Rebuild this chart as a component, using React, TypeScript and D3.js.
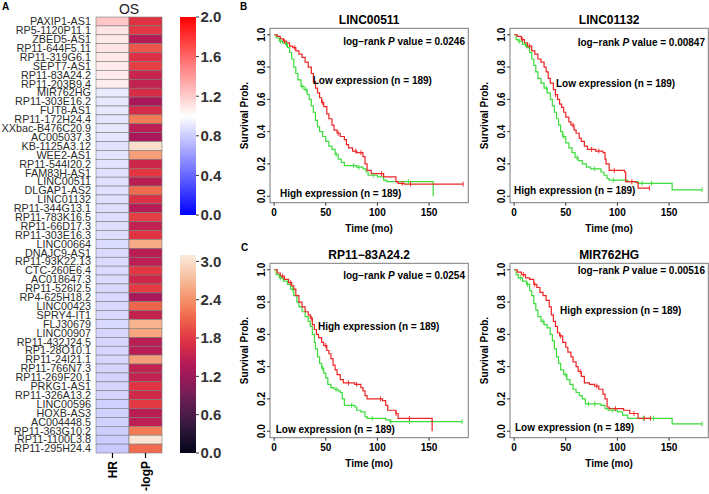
import React from "react";
import * as d3 from "d3";

// ---- heatmap data (panel A) ----
const genes = [
  "PAXIP1-AS1", "RP5-1120P11.1", "ZBED5-AS1", "RP11-644F5.11", "RP11-319G6.1",
  "SEPT7-AS1", "RP11-83A24.2", "RP11-203B9.4", "MIR762HG", "RP11-303E16.2",
  "FUT8-AS1", "RP11-172H24.4", "XXbac-B476C20.9", "AC005037.3", "KB-1125A3.12",
  "WEE2-AS1", "RP11-544I20.2", "FAM83H-AS1", "LINC00511", "DLGAP1-AS2",
  "LINC01132", "RP11-344G13.1", "RP11-783K16.5", "RP11-66D17.3", "RP11-303E16.3",
  "LINC00664", "DNAJC9-AS1", "RP11-93K22.13", "CTC-260E6.4", "AC018647.3",
  "RP11-526I2.5", "RP4-625H18.2", "LINC00423", "SPRY4-IT1", "FLJ30679",
  "LINC00907", "RP11-432J24.5", "RP1-28O10.1", "RP11-24I21.1", "RP11-766N7.3",
  "RP11-269F20.1", "PRKG1-AS1", "RP11-326A13.2", "LINC00596", "HOXB-AS3",
  "AC004448.5", "RP11-363G10.2", "RP11-1100L3.8", "RP11-295H24.4",
];
const hrValues = [
  1.22, 1.1, 1.09, 1.1, 1.09, 1.08, 1.08, 1.07, 0.92, 0.91,
  0.91, 0.9, 0.9, 0.9, 0.89, 0.89, 0.89, 0.88, 0.88, 0.88,
  0.88, 0.87, 0.87, 0.87, 0.87, 0.86, 0.86, 0.86, 0.86, 0.86,
  0.85, 0.85, 0.85, 0.85, 0.85, 0.84, 0.84, 0.84, 0.84, 0.83,
  0.83, 0.83, 0.83, 0.82, 0.82, 0.82, 0.81, 0.8, 0.79,
];
const logPValues = [
  1.75, 1.8, 1.4, 2.0, 1.72, 1.85, 1.55, 1.5, 1.68, 1.3,
  1.65, 2.25, 1.45, 1.3, 3.0, 2.5, 1.6, 1.8, 1.42, 2.15,
  1.72, 1.4, 1.85, 1.5, 1.78, 2.6, 1.42, 1.45, 1.8, 1.6,
  1.82, 1.3, 2.1, 1.52, 2.65, 2.55, 1.42, 1.42, 2.5, 1.48,
  1.5, 1.78, 1.62, 1.82, 1.42, 1.45, 2.25, 3.05, 2.15,
];
const columns = ["HR", "-logP"];
const hrTicks = [0, 0.4, 0.8, 1.2, 1.6, 2.0];
const logPTicks = [0, 0.6, 1.2, 1.8, 2.4, 3.0];

// ---- survival curves (panels B, C): [time, survival] step points ----
const timeTicks = [0, 50, 100, 150];
const probTicks = [0, 0.2, 0.4, 0.6, 0.8, 1.0];

const linc00511Low = [[0,1],[3,0.99],[6,0.975],[9,0.96],[12,0.95],[15,0.93],[18,0.92],[21,0.9],[24,0.88],[27,0.86],[30,0.83],[33,0.8],[36,0.76],[38,0.71],[40,0.67],[42,0.64],[44,0.61],[46,0.58],[48,0.555],[51,0.51],[53,0.48],[56,0.44],[58,0.41],[61,0.39],[64,0.37],[68,0.35],[70,0.32],[72,0.3],[76,0.28],[80,0.27],[86,0.245],[88,0.2],[90,0.16],[94,0.14],[106,0.12],[118,0.09],[120,0.08],[126,0.075],[183,0.075]];
const linc00511High = [[0,1],[2,0.98],[5,0.96],[8,0.95],[11,0.94],[13,0.92],[15,0.89],[17,0.85],[19,0.8],[21,0.76],[23,0.72],[26,0.68],[29,0.66],[32,0.63],[34,0.6],[36,0.56],[38,0.52],[40,0.47],[42,0.43],[44,0.4],[47,0.37],[50,0.34],[53,0.31],[56,0.29],[59,0.26],[62,0.23],[65,0.21],[68,0.19],[80,0.18],[86,0.17],[89,0.15],[91,0.13],[100,0.12],[106,0.1],[109,0.09],[154,0]];
const linc00511LowCens = [10, 20, 47, 62, 79, 84, 104, 124, 132, 183];
const linc00511HighCens = [6, 12, 27, 31, 60, 77, 82, 96, 130];

const linc01132Low = [[0,1],[3,0.99],[7,0.97],[10,0.95],[13,0.93],[17,0.9],[20,0.88],[23,0.85],[26,0.83],[29,0.8],[31,0.77],[33,0.73],[35,0.7],[38,0.66],[40,0.63],[42,0.6],[44,0.57],[46,0.55],[48,0.52],[50,0.49],[53,0.46],[55,0.44],[58,0.41],[60,0.39],[63,0.36],[65,0.34],[68,0.31],[71,0.29],[79,0.28],[86,0.27],[88,0.23],[89,0.2],[92,0.16],[107,0.15],[108,0.09],[118,0.085],[120,0.05],[131,0.05]];
const linc01132High = [[0,1],[2,0.97],[4,0.96],[8,0.94],[12,0.92],[15,0.89],[17,0.85],[19,0.81],[21,0.77],[23,0.73],[26,0.7],[29,0.67],[32,0.64],[35,0.6],[37,0.56],[39,0.52],[41,0.48],[43,0.44],[45,0.4],[47,0.37],[50,0.33],[53,0.3],[56,0.27],[59,0.24],[62,0.22],[66,0.2],[70,0.18],[74,0.17],[84,0.15],[87,0.13],[90,0.11],[92,0.1],[110,0.09],[120,0.08],[153,0.04],[182,0.04]];
const linc01132LowCens = [8, 15, 40, 57, 75, 82, 97, 114, 131];
const linc01132HighCens = [5, 11, 31, 48, 61, 78, 96, 124, 133, 182];

const rp1183LowCens = [6, 18, 47, 60, 75, 95, 113, 131, 182];
const rp1183HighCens = [8, 16, 36, 50, 72, 80, 103, 118, 131];
const rp1183High = [[0,1],[3,0.98],[6,0.96],[10,0.94],[14,0.92],[17,0.9],[19,0.88],[21,0.84],[24,0.8],[27,0.77],[30,0.74],[33,0.72],[35,0.7],[37,0.66],[39,0.63],[41,0.6],[43,0.58],[46,0.55],[48,0.53],[51,0.5],[53,0.48],[55,0.45],[57,0.41],[59,0.38],[61,0.35],[64,0.32],[67,0.3],[78,0.29],[84,0.27],[86,0.25],[88,0.22],[90,0.2],[105,0.19],[108,0.16],[110,0.13],[118,0.11],[120,0.08],[153,0]];
const rp1183Low = [[0,1],[2,0.97],[5,0.95],[9,0.93],[13,0.91],[16,0.88],[19,0.84],[22,0.8],[24,0.77],[27,0.74],[30,0.71],[33,0.68],[35,0.65],[37,0.6],[39,0.55],[40,0.51],[42,0.46],[44,0.42],[46,0.39],[48,0.36],[50,0.33],[52,0.29],[55,0.27],[58,0.26],[62,0.25],[64,0.24],[66,0.2],[68,0.16],[78,0.15],[80,0.13],[84,0.12],[88,0.09],[90,0.08],[108,0.07],[112,0.06],[182,0.06]];

const mir762High = [[0,1],[3,0.985],[7,0.97],[11,0.95],[15,0.94],[19,0.91],[22,0.89],[25,0.86],[28,0.84],[31,0.81],[34,0.77],[36,0.72],[38,0.68],[40,0.65],[42,0.61],[44,0.59],[47,0.55],[50,0.52],[52,0.49],[55,0.46],[57,0.43],[60,0.4],[62,0.37],[65,0.34],[68,0.3],[73,0.29],[78,0.28],[82,0.26],[86,0.23],[88,0.2],[90,0.15],[92,0.14],[106,0.13],[112,0.11],[120,0.08],[132,0.08]];
const mir762Low = [[0,1],[2,0.97],[4,0.95],[8,0.93],[12,0.91],[15,0.87],[17,0.84],[19,0.79],[21,0.75],[23,0.71],[26,0.68],[29,0.66],[32,0.64],[35,0.6],[37,0.56],[39,0.51],[41,0.46],[43,0.42],[45,0.38],[48,0.35],[51,0.32],[54,0.29],[57,0.26],[60,0.24],[63,0.22],[66,0.2],[69,0.17],[84,0.16],[88,0.14],[91,0.13],[100,0.12],[105,0.1],[110,0.08],[153,0.045],[182,0.045]];
const mir762HighCens = [9, 20, 45, 64, 80, 98, 116, 126, 132];
const mir762LowCens = [6, 13, 28, 50, 72, 78, 95, 125, 135, 182];

const FONT = "'Liberation Sans', Arial, sans-serif";
const RED = "#ee2424";
const GREEN = "#3bdc3b";

const rocket = d3.piecewise(d3.interpolateRgb, [
  "#03051a", "#35193e", "#701f57", "#ad1759", "#e13342", "#f37651", "#f6b48f", "#faebdd",
]);
const bwr = d3.piecewise(d3.interpolateRgb, ["#0000ff", "#ffffff", "#ff0000"]);
const hrColor = d3.scaleSequential(bwr).domain([0, 2]);
const logPColor = d3.scaleSequential(rocket).domain([0, 3.1]);

const Heatmap = () => {
  const y = d3.scaleBand().domain(genes).range([17, 453]);
  const x = d3.scaleBand().domain(columns).range([96, 162]);
  const hrBar = d3.scaleLinear().domain([0, 2]).range([215, 17]);
  const lpBar = d3.scaleLinear().domain([0, 3.1]).range([453, 255]);
  const stops = d3.range(0, 1.0001, 0.05);

  return (
    <g fontFamily={FONT}>
      <defs>
        <linearGradient id="hrGrad" x1="0" y1="1" x2="0" y2="0">
          {stops.map((t) => <stop key={t} offset={t} stopColor={hrColor(t * 2)} />)}
        </linearGradient>
        <linearGradient id="lpGrad" x1="0" y1="1" x2="0" y2="0">
          {stops.map((t) => <stop key={t} offset={t} stopColor={logPColor(t * 3.1)} />)}
        </linearGradient>
      </defs>
      <text x={2} y={9.5} fontSize={10} fontWeight="bold">A</text>
      <text x={129} y={13.5} fontSize={14} textAnchor="middle" fill="#222">OS</text>
      {genes.map((g, i) => (
        <g key={g}>
          <text x={91} y={y(g)! + y.bandwidth() / 2 + 3.8} fontSize={10.8} textAnchor="end" fill="#2b2b2b">{g}</text>
          <rect x={x("HR")} y={y(g)} width={x.bandwidth()} height={y.bandwidth()}
            fill={hrColor(hrValues[i])} stroke="#7c7c7c" strokeWidth={0.6} />
          <rect x={x("-logP")} y={y(g)} width={x.bandwidth()} height={y.bandwidth()}
            fill={logPColor(logPValues[i])} stroke="#7c7c7c" strokeWidth={0.6} />
        </g>
      ))}
      {columns.map((c) => {
        const cx = x(c)! + x.bandwidth() / 2;
        return (
          <g key={c}>
            <line x1={cx} x2={cx} y1={453} y2={458} stroke="#000" strokeWidth={1.2} />
            <text transform={`translate(${cx + 4.3},${461}) rotate(-90)`} fontSize={12}
              fontWeight="bold" textAnchor="end">{c}</text>
          </g>
        );
      })}
      <rect x={180} y={17} width={16} height={198} fill="url(#hrGrad)" />
      {hrTicks.map((t) => (
        <g key={"h" + t}>
          <line x1={196} x2={199} y1={hrBar(t)} y2={hrBar(t)} stroke="#333" />
          <text x={200.5} y={hrBar(t)} dy="0.36em" fontSize={15} fontWeight="bold" fill="#333">{t.toFixed(1)}</text>
        </g>
      ))}
      <rect x={180} y={255} width={16} height={198} fill="url(#lpGrad)" />
      {logPTicks.map((t) => (
        <g key={"l" + t}>
          <line x1={196} x2={199} y1={lpBar(t)} y2={lpBar(t)} stroke="#333" />
          <text x={200.5} y={lpBar(t)} dy="0.36em" fontSize={15} fontWeight="bold" fill="#333">{t.toFixed(1)}</text>
        </g>
      ))}
    </g>
  );
};

const survAt = (curve: number[][], t: number) => {
  let s = 1;
  for (const [ti, si] of curve) if (ti <= t) s = si;
  return s;
};

const KMPanel = ({ x0, y0, title, red, green, redCens, greenCens, pValue, upper, lower }: any) => {
  const w = 198.3, h = 174.4;
  const x = d3.scaleLinear().domain([-4, 188]).range([x0, x0 + w]);
  const y = d3.scaleLinear().domain([-0.04, 1.04]).range([y0 + h, y0]);
  const line = d3.line<number[]>().x((d) => x(d[0])).y((d) => y(d[1])).curve(d3.curveStepAfter);
  const cens = (curve: number[][], times: number[], color: string) =>
    times.map((t, i) => (
      <line key={color + i} x1={x(t)} x2={x(t)} y1={y(survAt(curve, t)) - 2.5} y2={y(survAt(curve, t)) + 2.5}
        stroke={color} strokeWidth={0.9} />
    ));
  const bold = { fontWeight: "bold" as const, fontSize: 10 };

  return (
    <g fontFamily={FONT}>
      <text x={x0 + w / 2} y={y0 - 4.4} textAnchor="middle" fontSize={12} fontWeight="bold">{title}</text>
      <rect x={x0} y={y0} width={w} height={h} fill="none" stroke="#7a7a7a" strokeWidth={1} />
      {timeTicks.map((t) => (
        <g key={"x" + t}>
          <line x1={x(t)} x2={x(t)} y1={y0 + h} y2={y0 + h + 3} stroke="#333" />
          <text x={x(t)} y={y0 + h + 12.8} textAnchor="middle" {...bold}>{t}</text>
        </g>
      ))}
      {probTicks.map((p) => (
        <g key={"y" + p}>
          <line x1={x0 - 3} x2={x0} y1={y(p)} y2={y(p)} stroke="#333" />
          <text transform={`translate(${x0 - 5},${y(p)}) rotate(-90)`} textAnchor="middle" {...bold}>{p.toFixed(1)}</text>
        </g>
      ))}
      <text x={x0 + w / 2} y={y0 + h + 29} textAnchor="middle" {...bold}>Time (mo)</text>
      <text transform={`translate(${x0 - 22.5},${y0 + h / 2}) rotate(-90)`} textAnchor="middle" {...bold}>Survival Prob.</text>
      <path d={line(green) ?? ""} fill="none" stroke={GREEN} strokeWidth={1.2} />
      <path d={line(red) ?? ""} fill="none" stroke={RED} strokeWidth={1.2} />
      {cens(green, greenCens, GREEN)}
      {cens(red, redCens, RED)}
      <text x={x0 + 195} y={y0 + pValue.dy} textAnchor="end" {...bold}>
        log−rank <tspan fontStyle="italic">P</tspan> value = {pValue.text}
      </text>
      <text x={x0 + upper.dx} y={y0 + upper.dy} {...bold}>{upper.text}</text>
      <text x={x0 + lower.dx} y={y0 + lower.dy} {...bold}>{lower.text}</text>
    </g>
  );
};

export default function App() {
  return (
    <svg width={709} height={494} style={{ position: "absolute", left: 0, top: 0, background: "#fff" }}>
      <Heatmap />
      <text x={240} y={9.5} fontFamily={FONT} fontSize={10} fontWeight="bold">B</text>
      <text x={241} y={250.5} fontFamily={FONT} fontSize={10} fontWeight="bold">C</text>
      <KMPanel x0={270} y0={28.3} title="LINC00511" red={linc00511Low} green={linc00511High}
        redCens={linc00511LowCens} greenCens={linc00511HighCens}
        pValue={{ text: "0.0246", dy: 17 }}
        upper={{ text: "Low expression (n = 189)", dx: 42.7, dy: 55.3 }}
        lower={{ text: "High expression (n = 189)", dx: 10, dy: 168.3 }} />
      <KMPanel x0={510} y0={28.3} title="LINC01132" red={linc01132Low} green={linc01132High}
        redCens={linc01132LowCens} greenCens={linc01132HighCens}
        pValue={{ text: "0.00847", dy: 18 }}
        upper={{ text: "Low expression (n = 189)", dx: 46, dy: 58.3 }}
        lower={{ text: "High expression (n = 189)", dx: 4, dy: 166 }} />
      <KMPanel x0={270} y0={263.3} title="RP11−83A24.2" red={rp1183High} green={rp1183Low}
        redCens={rp1183HighCens} greenCens={rp1183LowCens}
        pValue={{ text: "0.0254", dy: 15.3 }}
        upper={{ text: "High expression (n = 189)", dx: 48, dy: 67 }}
        lower={{ text: "Low expression (n = 189)", dx: 5.7, dy: 169.3 }} />
      <KMPanel x0={510} y0={263.3} title="MIR762HG" red={mir762High} green={mir762Low}
        redCens={mir762HighCens} greenCens={mir762LowCens}
        pValue={{ text: "0.00516", dy: 10.3 }}
        upper={{ text: "High expression (n = 189)", dx: 50, dy: 51 }}
        lower={{ text: "Low expression (n = 189)", dx: 5, dy: 167.6 }} />
    </svg>
  );
}
